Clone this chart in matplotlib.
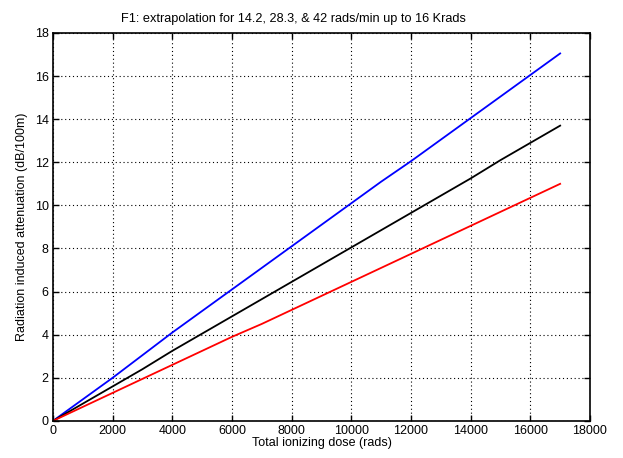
import matplotlib
matplotlib.use("Agg")
import matplotlib.pyplot as plt

plt.rcParams['font.family'] = ['Liberation Sans', 'DejaVu Sans']

dose = [0, 1000, 2000, 3000, 4000, 5000, 6000, 7000, 8000, 9000, 10000,
        11000, 12000, 13000, 14000, 15000, 16000, 17000]
blue_vals = [0, 1.0, 2.0, 3.05, 4.1, 5.1, 6.1, 7.1, 8.1, 9.1, 10.1,
             11.1, 12.05, 13.05, 14.05, 15.05, 16.05, 17.05]
black_vals = [0, 0.8, 1.6, 2.4, 3.25, 4.05, 4.85, 5.65, 6.45, 7.25, 8.05,
              8.85, 9.65, 10.45, 11.25, 12.1, 12.9, 13.7]
red_vals = [0, 0.65, 1.3, 1.95, 2.6, 3.25, 3.9, 4.5, 5.15, 5.8, 6.45,
            7.1, 7.75, 8.4, 9.05, 9.7, 10.35, 11.0]

xticks = [0, 2000, 4000, 6000, 8000, 10000, 12000, 14000, 16000, 18000]
yticks = [0, 2, 4, 6, 8, 10, 12, 14, 16, 18]

fig = plt.figure(figsize=(6.23, 4.58), dpi=100)
ax = fig.add_axes([0.085, 0.081, 0.862, 0.847])

ax.plot(dose, blue_vals, color='#0000ff', lw=1.3)
ax.plot(dose, black_vals, color='black', lw=1.3)
ax.plot(dose, red_vals, color='#ff0000', lw=1.3)

ax.set_xlim(0, 18000)
ax.set_ylim(0, 18)
ax.set_xticks(xticks)
ax.set_yticks(yticks)
ax.tick_params(direction='in', labelsize=9, length=4, width=1, top=True, right=True, pad=3)
ax.grid(True, linestyle=(0, (1, 2.5)), color='black', linewidth=0.8)
for s in ax.spines.values():
    s.set_linewidth(1.2)

ax.set_xlabel('Total ionizing dose (rads)', fontsize=9, labelpad=0)
ax.set_ylabel('Radiation induced attenuation (dB/100m)', fontsize=9, labelpad=5)
ax.set_title('F1: extrapolation for 14.2, 28.3, & 42 rads/min up to 16 Krads',
             fontsize=9.2, pad=8, x=0.447)

fig.savefig('out.png', dpi=100)
